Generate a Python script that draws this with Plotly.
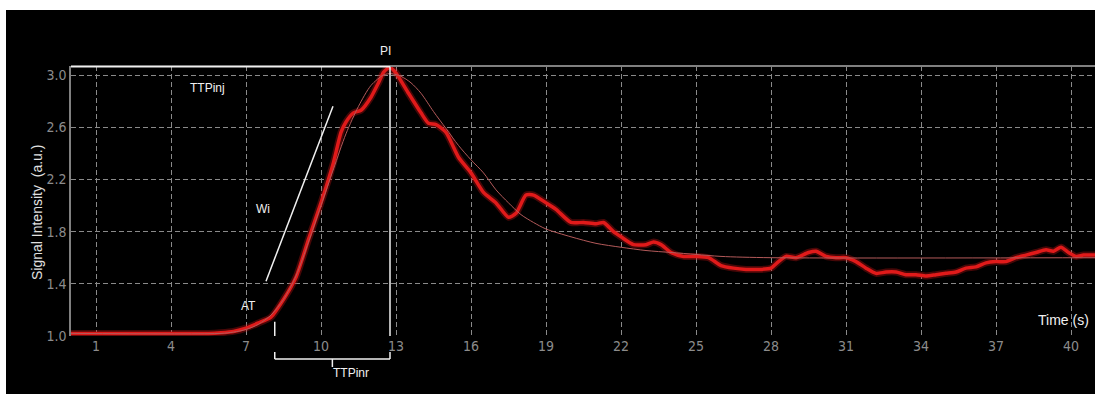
import plotly.graph_objects as go

# ---- data ----
time_s = [0, 1, 2, 3, 4, 5, 5.5, 6, 6.5, 7, 7.5, 8, 8.5, 9, 9.5, 10, 10.5, 10.8, 11, 11.3,
          11.6, 12, 12.3, 12.5, 12.75, 13, 13.5, 14, 14.3, 14.6, 15, 15.5, 16, 16.5, 17, 17.5,
          17.8, 18.2, 18.5, 19, 19.4, 20, 20.5, 21, 21.3, 21.7, 22, 22.5, 23, 23.3, 23.6, 24,
          24.5, 25, 25.5, 26, 26.5, 27, 27.5, 28, 28.3, 28.6, 29, 29.5, 29.8, 30.2, 30.6, 31,
          31.4, 31.8, 32.2, 32.6, 33, 33.4, 33.8, 34.2, 34.6, 35, 35.4, 35.8, 36.2, 36.6, 37,
          37.4, 37.8, 38.2, 38.6, 39, 39.3, 39.6, 39.9, 40.2, 40.5, 40.96]
signal = [1.02, 1.02, 1.02, 1.02, 1.02, 1.02, 1.02, 1.025, 1.035, 1.06, 1.10, 1.145, 1.28, 1.45,
          1.74, 2.02, 2.33, 2.56, 2.64, 2.71, 2.73, 2.83, 2.94, 3.02, 3.06, 3.015, 2.86, 2.71,
          2.63, 2.62, 2.56, 2.37, 2.25, 2.10, 2.02, 1.91, 1.94, 2.08, 2.08, 2.02, 1.97, 1.87,
          1.87, 1.86, 1.87, 1.80, 1.76, 1.70, 1.70, 1.72, 1.70, 1.64, 1.61, 1.61, 1.60, 1.54,
          1.52, 1.51, 1.51, 1.52, 1.57, 1.61, 1.60, 1.64, 1.65, 1.61, 1.60, 1.60, 1.57, 1.52,
          1.48, 1.49, 1.49, 1.47, 1.47, 1.46, 1.47, 1.48, 1.49, 1.52, 1.53, 1.56, 1.57, 1.57,
          1.60, 1.62, 1.64, 1.66, 1.65, 1.68, 1.64, 1.61, 1.62, 1.62]

fit_time = [0, 6, 6.5, 7, 7.5, 8, 8.5, 9, 9.5, 10, 10.5, 11, 11.5, 12, 12.5, 12.8, 13.2, 13.6,
            14, 14.5, 15, 15.5, 16, 16.5, 17, 17.5, 18, 18.5, 19, 20, 21, 22, 23, 24, 25, 26, 28, 41]
fit_signal = [1.02, 1.02, 1.03, 1.05, 1.09, 1.16, 1.28, 1.46, 1.72, 2.0, 2.28, 2.55, 2.76, 2.92,
              3.0, 3.01, 2.99, 2.94, 2.86, 2.72, 2.59, 2.46, 2.35, 2.25, 2.12, 2.02, 1.93, 1.87,
              1.82, 1.76, 1.71, 1.68, 1.655, 1.64, 1.625, 1.61, 1.60, 1.60]

x_ticks = [1, 4, 7, 10, 13, 16, 19, 22, 25, 28, 31, 34, 37, 40]
y_ticks = [1.0, 1.4, 1.8, 2.2, 2.6, 3.0]

# key parameters
peak_intensity = 3.065
time_to_peak = 12.76
arrival_time = 8.15
arrival_level = 1.11
wi_start = (7.8, 1.42)
wi_end = (10.48, 2.76)

X_MAX = 40.96
Y_MIN, Y_MAX = 1.0, 3.069

W, H = 1095, 394
ML, MR, MT, MB = 71, 0, 66, 58
PW, PH = W - ML - MR, H - MT - MB


def xfrac(t):
    return t / X_MAX


def py(pix):  # paper y from image pixel row
    return (H - MB - pix) / PH


def px(pix):
    return (pix - ML) / PW


fig = go.Figure()
fig.add_trace(go.Scatter(x=time_s, y=signal, mode="lines",
                         line=dict(color="rgba(200,20,20,0.35)", width=7, shape="spline", smoothing=0.6),
                         hoverinfo="skip", showlegend=False))
fig.add_trace(go.Scatter(x=time_s, y=signal, mode="lines",
                         line=dict(color="#e01a1a", width=3.5, shape="spline", smoothing=0.6),
                         showlegend=False))
fig.add_trace(go.Scatter(x=fit_time, y=fit_signal, mode="lines",
                         line=dict(color="#b45a5a", width=1, shape="spline", smoothing=0.8),
                         showlegend=False))

white = "#f0f0f0"
shapes = [
    # black background (white strip on top/left)
    dict(type="rect", xref="paper", yref="paper", x0=px(6), x1=1.0, y0=py(H), y1=py(10),
         fillcolor="black", line=dict(width=0), layer="below"),
    # top border
    dict(type="line", xref="paper", yref="paper", x0=0, x1=1, y0=1, y1=1,
         line=dict(color="#808080", width=2)),
    # PI horizontal & TTP vertical
    dict(type="line", xref="x", yref="y", x0=0, x1=time_to_peak, y0=peak_intensity, y1=peak_intensity,
         line=dict(color=white, width=2)),
    dict(type="line", xref="x", yref="y", x0=time_to_peak, x1=time_to_peak, y0=Y_MIN, y1=peak_intensity,
         line=dict(color=white, width=1.5)),
    # AT marker
    dict(type="line", xref="x", yref="y", x0=arrival_time, x1=arrival_time, y0=Y_MIN, y1=arrival_level,
         line=dict(color=white, width=1.5)),
    # Wi slope
    dict(type="line", xref="x", yref="y", x0=wi_start[0], y0=wi_start[1], x1=wi_end[0], y1=wi_end[1],
         line=dict(color=white, width=1.5)),
]
# bracket for TTPinr (below axis)
a, b = xfrac(arrival_time), xfrac(time_to_peak)
m = (a + b) / 2
bracket = dict(color=white, width=1.5)
shapes += [
    dict(type="line", xref="x domain", yref="paper", x0=a, x1=a, y0=py(352), y1=py(359), line=bracket),
    dict(type="line", xref="x domain", yref="paper", x0=b, x1=b, y0=py(352), y1=py(359), line=bracket),
    dict(type="line", xref="x domain", yref="paper", x0=a, x1=b, y0=py(359), y1=py(359), line=bracket),
    dict(type="line", xref="x domain", yref="paper", x0=m, x1=m, y0=py(359), y1=py(367), line=bracket),
]

lab_font = dict(family="Liberation Sans, Arial, sans-serif", size=12, color=white)
annotations = [
    dict(text="PI", x=12.56, y=py(42), xref="x", yref="paper", showarrow=False, font=lab_font),
    dict(text="TTPinj", x=5.44, y=2.90, xref="x", yref="y", showarrow=False, font=lab_font),
    dict(text="Wi", x=7.68, y=1.973, xref="x", yref="y", showarrow=False, font=lab_font),
    dict(text="AT", x=7.08, y=1.23, xref="x", yref="y", showarrow=False, font=lab_font),
    dict(text="TTPinr", x=xfrac(10.38), y=py(382), xref="x domain", yref="paper", showarrow=False,
         font=lab_font),
    dict(text="Time (s)", x=39.68, y=1.123, xref="x", yref="y", showarrow=False,
         font=dict(family="Liberation Sans, Arial, sans-serif", size=14, color=white)),
    dict(text="Signal Intensity  (a.u.)", x=px(27), y=py(213), xref="paper", yref="paper",
         showarrow=False, textangle=-90,
         font=dict(family="Liberation Sans, Arial, sans-serif", size=14, color="#e0e0e0")),
]

tick_font = dict(family="DejaVu Sans Condensed, Liberation Sans, Arial, sans-serif", size=14,
                 color="#8c8c8c", weight=300)
fig.update_layout(
    width=W, height=H,
    margin=dict(l=ML, r=MR, t=MT, b=MB, pad=0),
    paper_bgcolor="white", plot_bgcolor="black",
    shapes=shapes, annotations=annotations,
    showlegend=False,
    xaxis=dict(range=[0, X_MAX], tickmode="array", tickvals=x_ticks, ticktext=[str(v) for v in x_ticks],
               showgrid=True, gridcolor="#8a8a8a", griddash="5px,3px", gridwidth=1,
               zeroline=False, showline=False, ticks="", tickfont=tick_font),
    yaxis=dict(range=[Y_MIN, Y_MAX], tickmode="array", tickvals=y_ticks,
               ticktext=[f"{v:.1f}" for v in y_ticks],
               showgrid=True, gridcolor="#8a8a8a", griddash="5px,3px", gridwidth=1,
               zeroline=False, showline=True, linecolor="#808080", linewidth=1.5,
               ticks="", tickfont=tick_font),
)

fig.write_html("out.html", config={"displayModeBar": False},
               post_script="document.body.style.margin='0px';")
